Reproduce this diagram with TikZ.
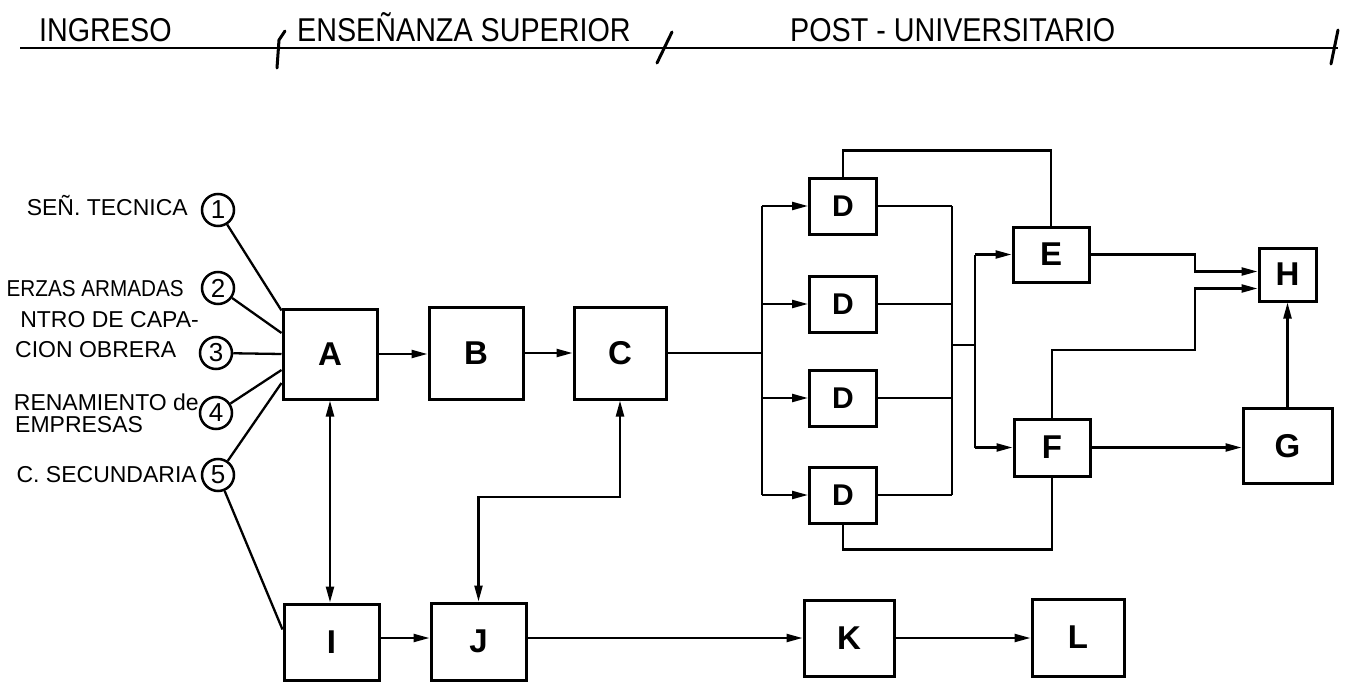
\documentclass[tikz,border=0pt]{standalone}
\usepackage{fontspec}
\setmainfont{Liberation Sans}
\usetikzlibrary{arrows.meta,calc}
\newcommand\hdrtext[1]{\scalebox{0.87}[1]{\fontsize{33}{33}\selectfont #1}}
\begin{document}
\begin{tikzpicture}[x=1pt,y=-1pt,
  box/.style={draw,line width=3pt,inner sep=0pt,font=\fontsize{33}{33}\selectfont\bfseries},
  dbox/.style={box,minimum width=67pt,minimum height=56pt,font=\fontsize{30}{30}\selectfont\bfseries},
  num/.style={draw,circle,line width=2.5pt,minimum size=32pt,inner sep=0pt,font=\fontsize{26}{26}\selectfont},
  lbl/.style={inner sep=0pt,font=\fontsize{23}{23}\selectfont},
  hdr/.style={inner sep=0pt,anchor=base west},
  con/.style={line width=2.3pt},
  arr/.style={con,-{Triangle[length=16pt,width=8pt]}},
  darr/.style={con,{Triangle[length=16pt,width=8pt]}-{Triangle[length=16pt,width=8pt]}},
  tick/.style={line width=3pt,line cap=round},
]
\useasboundingbox (0,0) rectangle (1345,685);

% header
\draw[line width=2pt] (20,48) -- (1338,48);
\draw[tick] (277,68) -- (279,40) -- (285,31);
\draw[tick] (657,63) -- (672,32);
\draw[tick] (1331,64) -- (1338,30);
\node[hdr] (h1) at (39,42) {\hdrtext{INGRESO}};
\node[hdr] (h2) at (297,42) {\hdrtext{ENSEÑANZA SUPERIOR}};
\node[hdr] (h3) at (790,42) {\hdrtext{POST - UNIVERSITARIO}};

% left labels
\node[lbl,anchor=base east] (l1) at (188,215) {SEÑ. TECNICA};
\node[lbl,anchor=base east] (l2) at (184,296) {\scalebox{0.9}[1]{ERZAS ARMADAS}};
\node[lbl,anchor=base east] (l3a) at (199,327) {NTRO DE CAPA-};
\node[lbl,anchor=base west] (l3b) at (15,357) {CION OBRERA};
\node[lbl,anchor=base east] (l4a) at (199,410) {RENAMIENTO de};
\node[lbl,anchor=base west] (l4b) at (15,432) {EMPRESAS};
\node[lbl,anchor=base east] (l5) at (197,482) {C. SECUNDARIA};

% circles
\node[num] (c1) at (218,210) {1};
\node[num] (c2) at (218,288) {2};
\node[num] (c3) at (216,353) {3};
\node[num] (c4) at (216,413) {4};
\node[num] (c5) at (218,475) {5};

% boxes
\node[box,minimum width=94pt,minimum height=90pt] (A) at (330,354) {A};
\node[box,minimum width=94pt,minimum height=92pt] (B) at (476,353) {B};
\node[box,minimum width=92pt,minimum height=92pt] (C) at (620,353) {C};
\node[box,minimum width=95pt,minimum height=76pt] (I) at (331.5,642) {I};
\node[box,minimum width=95pt,minimum height=77pt] (J) at (478.5,641.5) {J};
\node[dbox] (D1) at (843,206) {D};
\node[dbox] (D2) at (843,304) {D};
\node[dbox] (D3) at (843,398) {D};
\node[dbox] (D4) at (843,495) {D};
\node[box,minimum width=76pt,minimum height=55pt] (E) at (1051,254.5) {E};
\node[box,minimum width=76pt,minimum height=57pt] (F) at (1052,447.5) {F};
\node[box,minimum width=57pt,minimum height=53pt] (H) at (1287.5,274.5) {H};
\node[box,minimum width=89pt,minimum height=75pt] (G) at (1287.5,446) {G};
\node[box,minimum width=90pt,minimum height=76pt] (K) at (849,638) {K};
\node[box,minimum width=92pt,minimum height=77pt] (L) at (1078,637.5) {L};

% helper coordinates
\coordinate (bl) at (762,352);
\coordinate (br) at (952,345);
\coordinate (ef) at (975,345);
\coordinate (hx) at (1195,350);
\coordinate (cj) at (478.5,497);

% inputs to A and I
\draw[con] (c1) -- ([yshift=-3pt]A.north west);
\draw[con] (c2) -- ([yshift=21pt]A.west);
\draw[con] (c3) -- (A.west);
\draw[con] (c4) -- ([yshift=-16pt]A.west);
\draw[con] (c5) -- ([yshift=-29pt]A.west);
\draw[con] (c5) -- ([yshift=-27pt]I.north west);

% main chain
\draw[arr] (A.east) -- (A.east -| B.west);
\draw[arr] (B.east) -- (B.east -| C.west);
\draw[darr] (A.south) -- (A.south |- I.north);
\draw[darr] (C.south) |- (cj) -- (J.north);
\draw[arr] ([yshift=4pt]I.east) -- ([yshift=4pt]I.east -| J.west);
\draw[arr] (K.west -| J.east) -- (K.west);
\draw[arr] (K.east) -- (K.east -| L.west);

% D buses
\draw[con] (C.east) -- (C.east -| bl);
\draw[con] (D1.west -| bl) -- (D4.west -| bl);
\foreach \d in {D1,D2,D3,D4} {
  \draw[arr] (\d.west -| bl) -- (\d.west);
  \draw[con] (\d.east) -- (\d.east -| br);
}
\draw[con] (D1.east -| br) -- (D4.east -| br);
\draw[con] (br) -- (ef);
\draw[con] (E.west -| ef) -- (F.west -| ef);
\draw[arr] (E.west -| ef) -- (E.west);
\draw[arr] (F.west -| ef) -- (F.west);

% upper and lower loops
\draw[con] (D1.north) -- ++(0,-26) -| (E.north);
\draw[con] (D4.south) -- ++(0,25) -| (F.south);

% to H and G
\draw[arr] (E.east) -| ([yshift=3pt]H.west -| hx) -- ([yshift=3pt]H.west);
\draw[arr] (F.north) |- (hx) |- ([yshift=-14pt]H.west);
\draw[arr] (F.east) -- (F.east -| G.west);
\draw[arr] (G.north) -- (H.south);
\end{tikzpicture}
\end{document}
